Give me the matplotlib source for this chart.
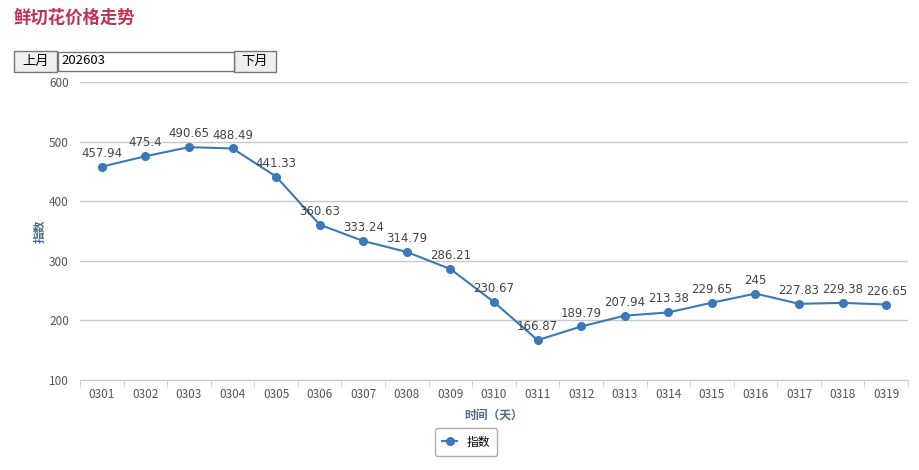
import matplotlib.pyplot as plt
from matplotlib.patches import Rectangle

plt.rcParams['font.family'] = ['Noto Sans CJK SC', 'DejaVu Sans']

days = ['0301', '0302', '0303', '0304', '0305', '0306', '0307', '0308', '0309', '0310',
        '0311', '0312', '0313', '0314', '0315', '0316', '0317', '0318', '0319']
values = [457.94, 475.4, 490.65, 488.49, 441.33, 360.63, 333.24, 314.79, 286.21, 230.67,
          166.87, 189.79, 207.94, 213.38, 229.65, 245, 227.83, 229.38, 226.65]
labels = ['457.94', '475.4', '490.65', '488.49', '441.33', '360.63', '333.24', '314.79', '286.21', '230.67',
          '166.87', '189.79', '207.94', '213.38', '229.65', '245', '227.83', '229.38', '226.65']

W, H = 920, 470
fig = plt.figure(figsize=(W / 100, H / 100), dpi=100)
fig.patch.set_facecolor('white')

def fx(px):
    return px / W

def fy(py):
    return 1 - py / H

# title and month picker
fig.text(fx(14), fy(18), '鲜切花价格走势', fontsize=12.5, fontweight='bold', color='#c3304f', va='center')
for x0, w, txt in [(14, 43, '上月'), (234, 42, '下月')]:
    fig.patches.append(Rectangle((fx(x0), fy(72)), fx(w), 21 / H, transform=fig.transFigure,
                                 facecolor='#efefef', edgecolor='#767676', lw=1))
    fig.text(fx(x0 + w / 2), fy(61.5), txt, fontsize=9.5, ha='center', va='center', color='black')
fig.patches.append(Rectangle((fx(58), fy(71)), fx(176), 19 / H, transform=fig.transFigure,
                             facecolor='white', edgecolor='#767676', lw=1))
fig.text(fx(61), fy(61), '202603', fontsize=9.5, va='center', color='black')

ax = fig.add_axes([fx(80), fy(380), fx(908 - 80), (380 - 82) / H])
x = range(len(days))
line, = ax.plot(x, values, color='#3a78b8', lw=1.5, marker='o', ms=5.5, zorder=3, label='指数')
for i, (v, t) in enumerate(zip(values, labels)):
    ax.annotate(t, (i, v), xytext=(0, 5), textcoords='offset points', ha='center', va='bottom',
                fontsize=8.5, color='#444444', family=['DejaVu Sans'])

ax.set_xlim(-0.5, len(days) - 0.5)
ax.set_ylim(100, 600)
ax.set_yticks([100, 200, 300, 400, 500, 600])
ax.set_xticks(x)
ax.set_xticklabels(days)
ax.set_xticks([i + 0.5 for i in range(-1, len(days))], minor=True)
ax.tick_params(axis='x', which='major', length=0, labelsize=8.5, colors='#555555', pad=6)
ax.tick_params(axis='x', which='minor', length=5, color='#cccccc', direction='out')
ax.tick_params(axis='y', length=0, labelsize=8.5, colors='#555555', pad=8)
ax.grid(axis='y', color='#c8c8c8', lw=1)
for s in ['top', 'right', 'left']:
    ax.spines[s].set_visible(False)
ax.spines['bottom'].set_color('#cccccc')
ax.set_axisbelow(True)

ax.set_xlabel('时间（天）', fontsize=8.5, fontweight='bold', color='#4d6a8a', labelpad=5)
ax.set_ylabel('指数', fontsize=8.5, fontweight='bold', color='#4d6a8a', labelpad=2)

leg = fig.legend(handles=[line], loc='center', bbox_to_anchor=(fx(466), fy(442)), frameon=True,
                 fontsize=8.5, handlelength=1.3, borderpad=0.6, fancybox=True)
leg.get_frame().set_edgecolor('#999999')
leg.get_frame().set_linewidth(1)

fig.savefig('out.png', dpi=100, facecolor='white')
